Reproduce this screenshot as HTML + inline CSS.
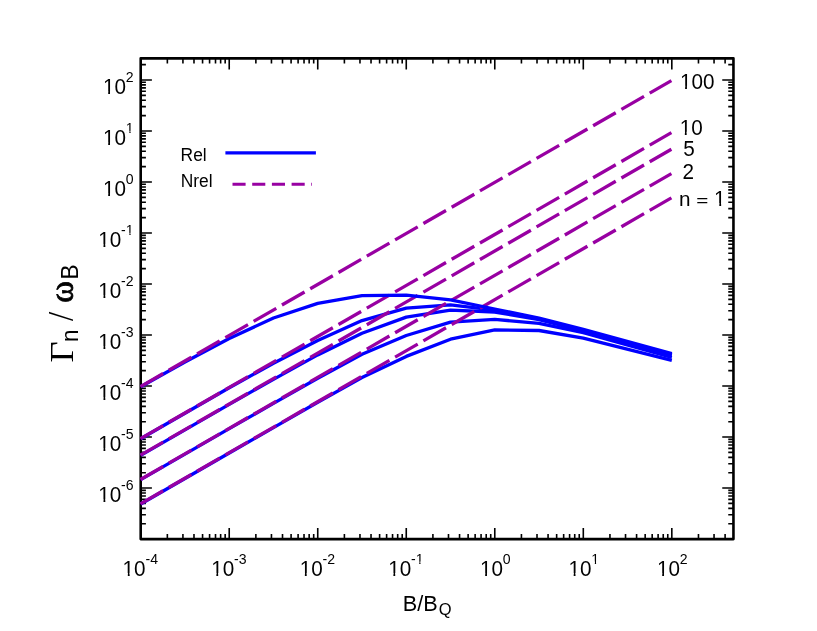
<!DOCTYPE html>
<html><head><meta charset="utf-8"><title>plot</title>
<style>
html,body{margin:0;padding:0;background:#fff;}
svg{display:block;}
text{font-family:"Liberation Sans",sans-serif;fill:#000;}
.s{font-family:"Liberation Serif",serif;}
</style></head><body>
<svg width="817" height="631" viewBox="0 0 817 631">
<rect width="817" height="631" fill="#fff"/>
<path d="M167.35 539.10v-5.20M167.35 58.35v5.20M182.93 539.10v-5.20M182.93 58.35v5.20M193.99 539.10v-5.20M193.99 58.35v5.20M202.57 539.10v-5.20M202.57 58.35v5.20M209.58 539.10v-5.20M209.58 58.35v5.20M215.51 539.10v-5.20M215.51 58.35v5.20M220.64 539.10v-5.20M220.64 58.35v5.20M225.17 539.10v-5.20M225.17 58.35v5.20M229.22 539.10v-11.20M229.22 58.35v11.20M255.87 539.10v-5.20M255.87 58.35v5.20M271.45 539.10v-5.20M271.45 58.35v5.20M282.51 539.10v-5.20M282.51 58.35v5.20M291.09 539.10v-5.20M291.09 58.35v5.20M298.10 539.10v-5.20M298.10 58.35v5.20M304.03 539.10v-5.20M304.03 58.35v5.20M309.16 539.10v-5.20M309.16 58.35v5.20M313.69 539.10v-5.20M313.69 58.35v5.20M317.74 539.10v-11.20M317.74 58.35v11.20M344.39 539.10v-5.20M344.39 58.35v5.20M359.97 539.10v-5.20M359.97 58.35v5.20M371.03 539.10v-5.20M371.03 58.35v5.20M379.61 539.10v-5.20M379.61 58.35v5.20M386.62 539.10v-5.20M386.62 58.35v5.20M392.55 539.10v-5.20M392.55 58.35v5.20M397.68 539.10v-5.20M397.68 58.35v5.20M402.21 539.10v-5.20M402.21 58.35v5.20M406.26 539.10v-11.20M406.26 58.35v11.20M432.91 539.10v-5.20M432.91 58.35v5.20M448.49 539.10v-5.20M448.49 58.35v5.20M459.55 539.10v-5.20M459.55 58.35v5.20M468.13 539.10v-5.20M468.13 58.35v5.20M475.14 539.10v-5.20M475.14 58.35v5.20M481.07 539.10v-5.20M481.07 58.35v5.20M486.20 539.10v-5.20M486.20 58.35v5.20M490.73 539.10v-5.20M490.73 58.35v5.20M494.78 539.10v-11.20M494.78 58.35v11.20M521.43 539.10v-5.20M521.43 58.35v5.20M537.01 539.10v-5.20M537.01 58.35v5.20M548.07 539.10v-5.20M548.07 58.35v5.20M556.65 539.10v-5.20M556.65 58.35v5.20M563.66 539.10v-5.20M563.66 58.35v5.20M569.59 539.10v-5.20M569.59 58.35v5.20M574.72 539.10v-5.20M574.72 58.35v5.20M579.25 539.10v-5.20M579.25 58.35v5.20M583.30 539.10v-11.20M583.30 58.35v11.20M609.95 539.10v-5.20M609.95 58.35v5.20M625.53 539.10v-5.20M625.53 58.35v5.20M636.59 539.10v-5.20M636.59 58.35v5.20M645.17 539.10v-5.20M645.17 58.35v5.20M652.18 539.10v-5.20M652.18 58.35v5.20M658.11 539.10v-5.20M658.11 58.35v5.20M663.24 539.10v-5.20M663.24 58.35v5.20M667.77 539.10v-5.20M667.77 58.35v5.20M671.82 539.10v-11.20M671.82 58.35v11.20M698.47 539.10v-5.20M698.47 58.35v5.20M714.05 539.10v-5.20M714.05 58.35v5.20M725.11 539.10v-5.20M725.11 58.35v5.20M140.70 523.70h5.20M733.45 523.70h-5.20M140.70 514.72h5.20M733.45 514.72h-5.20M140.70 508.35h5.20M733.45 508.35h-5.20M140.70 503.41h5.20M733.45 503.41h-5.20M140.70 499.37h5.20M733.45 499.37h-5.20M140.70 495.95h5.20M733.45 495.95h-5.20M140.70 492.99h5.20M733.45 492.99h-5.20M140.70 490.38h5.20M733.45 490.38h-5.20M140.70 488.05h11.20M733.45 488.05h-11.20M140.70 472.69h5.20M733.45 472.69h-5.20M140.70 463.71h5.20M733.45 463.71h-5.20M140.70 457.34h5.20M733.45 457.34h-5.20M140.70 452.40h5.20M733.45 452.40h-5.20M140.70 448.36h5.20M733.45 448.36h-5.20M140.70 444.94h5.20M733.45 444.94h-5.20M140.70 441.98h5.20M733.45 441.98h-5.20M140.70 439.37h5.20M733.45 439.37h-5.20M140.70 437.04h11.20M733.45 437.04h-11.20M140.70 421.68h5.20M733.45 421.68h-5.20M140.70 412.70h5.20M733.45 412.70h-5.20M140.70 406.33h5.20M733.45 406.33h-5.20M140.70 401.39h5.20M733.45 401.39h-5.20M140.70 397.35h5.20M733.45 397.35h-5.20M140.70 393.93h5.20M733.45 393.93h-5.20M140.70 390.97h5.20M733.45 390.97h-5.20M140.70 388.36h5.20M733.45 388.36h-5.20M140.70 386.03h11.20M733.45 386.03h-11.20M140.70 370.67h5.20M733.45 370.67h-5.20M140.70 361.69h5.20M733.45 361.69h-5.20M140.70 355.32h5.20M733.45 355.32h-5.20M140.70 350.38h5.20M733.45 350.38h-5.20M140.70 346.34h5.20M733.45 346.34h-5.20M140.70 342.92h5.20M733.45 342.92h-5.20M140.70 339.96h5.20M733.45 339.96h-5.20M140.70 337.35h5.20M733.45 337.35h-5.20M140.70 335.02h11.20M733.45 335.02h-11.20M140.70 319.66h5.20M733.45 319.66h-5.20M140.70 310.68h5.20M733.45 310.68h-5.20M140.70 304.31h5.20M733.45 304.31h-5.20M140.70 299.37h5.20M733.45 299.37h-5.20M140.70 295.33h5.20M733.45 295.33h-5.20M140.70 291.91h5.20M733.45 291.91h-5.20M140.70 288.95h5.20M733.45 288.95h-5.20M140.70 286.34h5.20M733.45 286.34h-5.20M140.70 284.01h11.20M733.45 284.01h-11.20M140.70 268.65h5.20M733.45 268.65h-5.20M140.70 259.67h5.20M733.45 259.67h-5.20M140.70 253.30h5.20M733.45 253.30h-5.20M140.70 248.36h5.20M733.45 248.36h-5.20M140.70 244.32h5.20M733.45 244.32h-5.20M140.70 240.90h5.20M733.45 240.90h-5.20M140.70 237.94h5.20M733.45 237.94h-5.20M140.70 235.33h5.20M733.45 235.33h-5.20M140.70 233.00h11.20M733.45 233.00h-11.20M140.70 217.64h5.20M733.45 217.64h-5.20M140.70 208.66h5.20M733.45 208.66h-5.20M140.70 202.29h5.20M733.45 202.29h-5.20M140.70 197.35h5.20M733.45 197.35h-5.20M140.70 193.31h5.20M733.45 193.31h-5.20M140.70 189.89h5.20M733.45 189.89h-5.20M140.70 186.93h5.20M733.45 186.93h-5.20M140.70 184.32h5.20M733.45 184.32h-5.20M140.70 181.99h11.20M733.45 181.99h-11.20M140.70 166.63h5.20M733.45 166.63h-5.20M140.70 157.65h5.20M733.45 157.65h-5.20M140.70 151.28h5.20M733.45 151.28h-5.20M140.70 146.34h5.20M733.45 146.34h-5.20M140.70 142.30h5.20M733.45 142.30h-5.20M140.70 138.88h5.20M733.45 138.88h-5.20M140.70 135.92h5.20M733.45 135.92h-5.20M140.70 133.31h5.20M733.45 133.31h-5.20M140.70 130.98h11.20M733.45 130.98h-11.20M140.70 115.62h5.20M733.45 115.62h-5.20M140.70 106.64h5.20M733.45 106.64h-5.20M140.70 100.27h5.20M733.45 100.27h-5.20M140.70 95.33h5.20M733.45 95.33h-5.20M140.70 91.29h5.20M733.45 91.29h-5.20M140.70 87.87h5.20M733.45 87.87h-5.20M140.70 84.91h5.20M733.45 84.91h-5.20M140.70 82.30h5.20M733.45 82.30h-5.20M140.70 79.97h11.20M733.45 79.97h-11.20M140.70 64.61h5.20M733.45 64.61h-5.20" stroke="#000" stroke-width="1.6" fill="none"/>
<rect x="140.7" y="58.35" width="592.75" height="480.75" fill="none" stroke="#000" stroke-width="2.6" stroke-linejoin="round"/>
<polyline points="140.70,504.01 184.96,478.51 229.22,453.00 273.48,427.60 317.74,402.30 362.00,377.60 406.26,356.40 450.52,339.20 494.78,329.90 539.04,330.50 583.30,338.20 671.82,360.40" fill="none" stroke="#0000ff" stroke-width="3.3" stroke-linejoin="round"/>
<polyline points="140.70,479.67 184.96,454.17 229.22,428.66 273.48,403.36 317.74,378.20 362.00,354.20 406.26,335.50 450.52,322.10 494.78,319.40 539.04,323.30 583.30,332.70 671.82,357.50" fill="none" stroke="#0000ff" stroke-width="3.3" stroke-linejoin="round"/>
<polyline points="140.70,455.34 184.96,429.83 229.22,404.33 273.48,379.32 317.74,354.90 362.00,333.20 406.26,317.10 450.52,310.10 494.78,312.00 539.04,319.70 583.30,331.00 671.82,355.30" fill="none" stroke="#0000ff" stroke-width="3.3" stroke-linejoin="round"/>
<polyline points="140.70,438.78 184.96,413.28 229.22,387.77 273.48,363.27 317.74,340.50 362.00,320.60 406.26,308.10 450.52,304.80 494.78,310.10 539.04,318.90 583.30,330.30 671.82,354.50" fill="none" stroke="#0000ff" stroke-width="3.3" stroke-linejoin="round"/>
<line x1="140.5" y1="503.83" x2="671.4" y2="197.89" stroke="#9800a2" stroke-width="3.3" stroke-dasharray="26.1 6.55"/>
<line x1="140.5" y1="479.49" x2="671.4" y2="173.56" stroke="#9800a2" stroke-width="3.3" stroke-dasharray="26.1 6.55"/>
<line x1="140.5" y1="455.15" x2="671.4" y2="149.22" stroke="#9800a2" stroke-width="3.3" stroke-dasharray="26.1 6.55"/>
<line x1="140.5" y1="438.60" x2="671.4" y2="132.67" stroke="#9800a2" stroke-width="3.3" stroke-dasharray="26.1 6.55"/>
<polyline points="140.70,386.75 184.96,361.94 229.22,338.44 273.48,318.00 317.74,303.40 362.00,295.70 406.26,295.10 450.52,299.80 494.78,309.00 539.04,318.10 583.30,329.40 671.82,353.70" fill="none" stroke="#0000ff" stroke-width="3.3" stroke-linejoin="round"/>
<line x1="140.5" y1="386.56" x2="671.4" y2="80.63" stroke="#9800a2" stroke-width="3.3" stroke-dasharray="26.1 6.55"/>
<g opacity="0.999">
<line x1="225.4" y1="152.95" x2="315.9" y2="152.95" stroke="#0000ff" stroke-width="3.3"/>
<line x1="232.5" y1="184.15" x2="312.0" y2="184.15" stroke="#9800a2" stroke-width="3" stroke-dasharray="13.1 6.6"/>
<text transform="translate(180.60,160.50) scale(1,1.02)" font-size="17.4">Rel</text>
<text transform="translate(180.70,187.00) scale(1,1.02)" font-size="17.4">Nrel</text>
<text transform="translate(679.90,88.50) scale(1,1.07)" font-size="20.7">100</text>
<rect x="680.52" y="85.65" width="4.59" height="3.85" fill="#fff"/><rect x="686.93" y="85.65" width="4.35" height="3.85" fill="#fff"/>
<text transform="translate(679.63,134.60) scale(1,1.07)" font-size="20.7">10</text>
<rect x="680.25" y="131.75" width="4.59" height="3.85" fill="#fff"/><rect x="686.66" y="131.75" width="4.35" height="3.85" fill="#fff"/>
<text transform="translate(683.30,155.50) scale(1,1.07)" font-size="20.7">5</text>
<text transform="translate(682.40,178.90) scale(1,1.07)" font-size="20.7">2</text>
<text transform="translate(679.00,205.90) scale(1,0.98)" font-size="20.7">n</text>
<text transform="translate(696.26,205.85) scale(1,0.74)" font-size="20.7">=</text>
<text transform="translate(714.10,205.90) scale(1,1.07)" font-size="20.7">1</text>
<rect x="714.72" y="203.05" width="4.59" height="3.85" fill="#fff"/><rect x="721.14" y="203.05" width="4.35" height="3.85" fill="#fff"/>
<text transform="translate(98.29,502.25) scale(1,1.07)" font-size="20.7">10</text>
<rect x="98.91" y="499.40" width="4.59" height="3.85" fill="#fff"/><rect x="105.32" y="499.40" width="4.35" height="3.85" fill="#fff"/>
<text transform="translate(121.11,490.25) scale(1,1.09)" font-size="14.1">-6</text>
<text transform="translate(98.29,451.24) scale(1,1.07)" font-size="20.7">10</text>
<rect x="98.91" y="448.39" width="4.59" height="3.85" fill="#fff"/><rect x="105.32" y="448.39" width="4.35" height="3.85" fill="#fff"/>
<text transform="translate(121.11,439.24) scale(1,1.09)" font-size="14.1">-5</text>
<text transform="translate(98.29,400.23) scale(1,1.07)" font-size="20.7">10</text>
<rect x="98.91" y="397.38" width="4.59" height="3.85" fill="#fff"/><rect x="105.32" y="397.38" width="4.35" height="3.85" fill="#fff"/>
<text transform="translate(121.11,388.23) scale(1,1.09)" font-size="14.1">-4</text>
<text transform="translate(98.29,349.22) scale(1,1.07)" font-size="20.7">10</text>
<rect x="98.91" y="346.37" width="4.59" height="3.85" fill="#fff"/><rect x="105.32" y="346.37" width="4.35" height="3.85" fill="#fff"/>
<text transform="translate(121.11,337.22) scale(1,1.09)" font-size="14.1">-3</text>
<text transform="translate(98.29,298.21) scale(1,1.07)" font-size="20.7">10</text>
<rect x="98.91" y="295.36" width="4.59" height="3.85" fill="#fff"/><rect x="105.32" y="295.36" width="4.35" height="3.85" fill="#fff"/>
<text transform="translate(121.11,286.21) scale(1,1.09)" font-size="14.1">-2</text>
<text transform="translate(98.29,247.20) scale(1,1.07)" font-size="20.7">10</text>
<rect x="98.91" y="244.35" width="4.59" height="3.85" fill="#fff"/><rect x="105.32" y="244.35" width="4.35" height="3.85" fill="#fff"/>
<text transform="translate(121.11,235.20) scale(1,1.09)" font-size="14.1">-1</text>
<rect x="126.23" y="232.85" width="3.12" height="3.35" fill="#fff"/><rect x="130.60" y="232.85" width="2.96" height="3.35" fill="#fff"/>
<text transform="translate(102.98,196.19) scale(1,1.07)" font-size="20.7">10</text>
<rect x="103.60" y="193.34" width="4.59" height="3.85" fill="#fff"/><rect x="110.01" y="193.34" width="4.35" height="3.85" fill="#fff"/>
<text transform="translate(125.81,184.19) scale(1,1.09)" font-size="14.1">0</text>
<text transform="translate(102.98,145.18) scale(1,1.07)" font-size="20.7">10</text>
<rect x="103.60" y="142.33" width="4.59" height="3.85" fill="#fff"/><rect x="110.01" y="142.33" width="4.35" height="3.85" fill="#fff"/>
<text transform="translate(125.81,133.18) scale(1,1.09)" font-size="14.1">1</text>
<rect x="126.23" y="130.83" width="3.12" height="3.35" fill="#fff"/><rect x="130.60" y="130.83" width="2.96" height="3.35" fill="#fff"/>
<text transform="translate(102.98,94.17) scale(1,1.07)" font-size="20.7">10</text>
<rect x="103.60" y="91.32" width="4.59" height="3.85" fill="#fff"/><rect x="110.01" y="91.32" width="4.35" height="3.85" fill="#fff"/>
<text transform="translate(125.81,82.17) scale(1,1.09)" font-size="14.1">2</text>
<text transform="translate(122.62,575.80) scale(1,1.07)" font-size="20.7">10</text>
<rect x="123.24" y="572.95" width="4.59" height="3.85" fill="#fff"/><rect x="129.65" y="572.95" width="4.35" height="3.85" fill="#fff"/>
<text transform="translate(145.44,563.80) scale(1,1.09)" font-size="14.1">-4</text>
<text transform="translate(211.14,575.80) scale(1,1.07)" font-size="20.7">10</text>
<rect x="211.76" y="572.95" width="4.59" height="3.85" fill="#fff"/><rect x="218.17" y="572.95" width="4.35" height="3.85" fill="#fff"/>
<text transform="translate(233.96,563.80) scale(1,1.09)" font-size="14.1">-3</text>
<text transform="translate(299.66,575.80) scale(1,1.07)" font-size="20.7">10</text>
<rect x="300.28" y="572.95" width="4.59" height="3.85" fill="#fff"/><rect x="306.69" y="572.95" width="4.35" height="3.85" fill="#fff"/>
<text transform="translate(322.48,563.80) scale(1,1.09)" font-size="14.1">-2</text>
<text transform="translate(388.18,575.80) scale(1,1.07)" font-size="20.7">10</text>
<rect x="388.80" y="572.95" width="4.59" height="3.85" fill="#fff"/><rect x="395.21" y="572.95" width="4.35" height="3.85" fill="#fff"/>
<text transform="translate(411.00,563.80) scale(1,1.09)" font-size="14.1">-1</text>
<rect x="416.12" y="561.45" width="3.12" height="3.35" fill="#fff"/><rect x="420.49" y="561.45" width="2.96" height="3.35" fill="#fff"/>
<text transform="translate(479.95,575.80) scale(1,1.07)" font-size="20.7">10</text>
<rect x="480.57" y="572.95" width="4.59" height="3.85" fill="#fff"/><rect x="486.98" y="572.95" width="4.35" height="3.85" fill="#fff"/>
<text transform="translate(502.77,563.80) scale(1,1.09)" font-size="14.1">0</text>
<text transform="translate(568.47,575.80) scale(1,1.07)" font-size="20.7">10</text>
<rect x="569.09" y="572.95" width="4.59" height="3.85" fill="#fff"/><rect x="575.50" y="572.95" width="4.35" height="3.85" fill="#fff"/>
<text transform="translate(591.29,563.80) scale(1,1.09)" font-size="14.1">1</text>
<rect x="591.72" y="561.45" width="3.12" height="3.35" fill="#fff"/><rect x="596.08" y="561.45" width="2.96" height="3.35" fill="#fff"/>
<text transform="translate(656.99,575.80) scale(1,1.07)" font-size="20.7">10</text>
<rect x="657.61" y="572.95" width="4.59" height="3.85" fill="#fff"/><rect x="664.02" y="572.95" width="4.35" height="3.85" fill="#fff"/>
<text transform="translate(679.81,563.80) scale(1,1.09)" font-size="14.1">2</text>
<text transform="translate(402.77,611.00) scale(1,1.02)" font-size="21.7">B/B</text>
<text transform="translate(438.87,614.80) scale(1,1.0)" font-size="16.5">Q</text>
<text transform="translate(72.8,362.6) rotate(-90) scale(1.11,1)" font-size="33" class="s">Γ</text>
<text transform="translate(77.65,341.95) rotate(-90) scale(1,1.03)" font-size="22.6">n</text>
<text transform="translate(72.8,321.1) rotate(-90) scale(1,1.09)" font-size="33" class="s">/</text>
<text transform="translate(72.5,302.65) rotate(-90) scale(1,1)" font-size="33" class="s" stroke="#000" stroke-width="0.8">ω</text>
<text transform="translate(77.65,279.4) rotate(-90) scale(1,1.03)" font-size="22.6">B</text>
</g>
</svg></body></html>
